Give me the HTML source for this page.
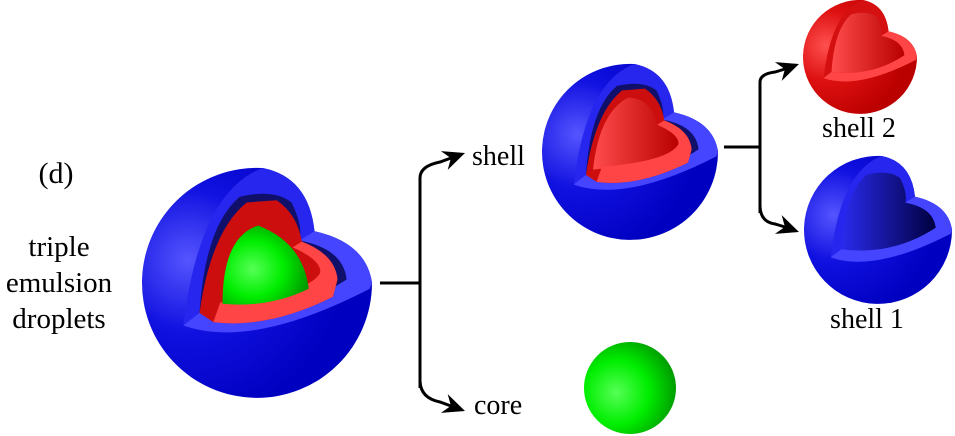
<!DOCTYPE html>
<html><head><meta charset="utf-8"><style>
html,body{margin:0;padding:0;background:#fff;}
svg{display:block;}
text{font-family:"Liberation Serif",serif;fill:#000;}
</style></head><body>
<svg width="955" height="436" viewBox="0 0 955 436" xmlns="http://www.w3.org/2000/svg">
<defs>
<radialGradient id="gb" cx="0.2" cy="0.4" r="0.7">
<stop offset="0" stop-color="#5555ff"/><stop offset="0.45" stop-color="#1010e0"/><stop offset="1" stop-color="#0000c0"/></radialGradient>
<radialGradient id="gr" cx="0.2" cy="0.4" r="0.7">
<stop offset="0" stop-color="#ff5050"/><stop offset="0.45" stop-color="#dd1010"/><stop offset="1" stop-color="#bb0000"/></radialGradient>
<radialGradient id="gg" cx="0.35" cy="0.55" r="0.7">
<stop offset="0" stop-color="#55ff55"/><stop offset="0.5" stop-color="#00ee00"/><stop offset="1" stop-color="#009000"/></radialGradient>
<linearGradient id="cr" x1="0" x2="1"><stop offset="0" stop-color="#ff4c4c"/><stop offset="1" stop-color="#b80000"/></linearGradient>
<linearGradient id="cb" x1="0" x2="1"><stop offset="0" stop-color="#2a2aee"/><stop offset="1" stop-color="#000040"/></linearGradient>
</defs>

<!-- big triple -->
<g transform="translate(257,283) scale(1.15)">
<path d="M5,-100 A100 100 0 1 0 100,0 Q95,-35 50,-45 Q45,-92 5,-100 Z" fill="url(#gb)"/>
<path d="M5,-100 Q-50,-80 -64,37 Q-5,58 98,5 L100,0 Q95,-35 50,-45 Q45,-92 5,-100 Z" fill="#2626ee"/>
<path d="M-50,26 Q-45,-50 -15,-75 Q15,-82 30,-70 Q40,-50 37,-37 Q75,-30 78,-3 Q20,35 -50,26 Z" fill="#10106a"/>
<path d="M-64,37 Q-5,58 98,5 L100,0 Q95,-35 50,-45 L37,-37 Q75,-30 78,-3 Q20,35 -50,26 Z" fill="#4545ff"/>
<path d="M-50,26 Q-40,-45 -9,-70 L17,-72 Q35,-60 39,-36 Q68,-25 70,-3 L66,12 Q10,40 -38,34 Z" fill="#cc0e0e"/>
<path d="M-38,34 Q10,40 66,12 L70,-3 Q68,-25 39,-36 L31,-31 Q56,-20 55,-9 Q45,10 -32,17 Z" fill="#ff4545"/>
<path d="M-30,18 Q-30,-40 1,-50 Q40,-35 45,5 Q10,22 -30,18 Z" fill="url(#gg)"/>
</g>

<!-- medium double -->
<g transform="translate(630,152) scale(0.88)">
<path d="M5,-100 A100 100 0 1 0 100,0 Q95,-35 50,-45 Q45,-92 5,-100 Z" fill="url(#gb)"/>
<path d="M5,-100 Q-50,-80 -64,37 Q-5,58 98,5 L100,0 Q95,-35 50,-45 Q45,-92 5,-100 Z" fill="#2626ee"/>
<path d="M-50,26 Q-45,-50 -15,-75 Q15,-82 30,-70 Q40,-50 37,-37 Q75,-30 78,-3 Q20,35 -50,26 Z" fill="#10106a"/>
<path d="M-64,37 Q-5,58 98,5 L100,0 Q95,-35 50,-45 L37,-37 Q75,-30 78,-3 Q20,35 -50,26 Z" fill="#4545ff"/>
<path d="M-50,26 Q-40,-45 -9,-70 L17,-72 Q35,-60 39,-36 Q68,-25 70,-3 L66,12 Q10,40 -38,34 Z" fill="#cc0e0e"/>
<path d="M-42,20 Q-35,-45 -2,-62 Q25,-60 31,-31 Q56,-20 55,-9 Q40,12 -42,20 Z" fill="url(#cr)"/>
<path d="M-38,34 Q10,40 66,12 L70,-3 Q68,-25 39,-36 L31,-31 Q56,-20 55,-9 Q45,10 -32,17 Z" fill="#ff4545"/>
</g>

<!-- shell 2 red -->
<g transform="translate(860,57) scale(0.57)">
<path d="M5,-100 A100 100 0 1 0 100,0 Q95,-35 50,-45 Q45,-92 5,-100 Z" fill="url(#gr)"/>
<path d="M5,-100 Q-50,-80 -64,37 Q-5,58 98,5 L100,0 Q95,-35 50,-45 Q45,-92 5,-100 Z" fill="#d41010"/>
<path d="M-50,26 Q-45,-50 -15,-75 Q15,-82 30,-70 Q40,-50 37,-37 Q75,-30 78,-3 Q20,35 -50,26 Z" fill="url(#cr)"/>
<path d="M-64,37 Q-5,58 98,5 L100,0 Q95,-35 50,-45 L37,-37 Q75,-30 78,-3 Q20,35 -50,26 Z" fill="#ff4545"/>
</g>

<!-- shell 1 blue -->
<g transform="translate(878,230) scale(0.74)">
<path d="M5,-100 A100 100 0 1 0 100,0 Q95,-35 50,-45 Q45,-92 5,-100 Z" fill="url(#gb)"/>
<path d="M5,-100 Q-50,-80 -64,37 Q-5,58 98,5 L100,0 Q95,-35 50,-45 Q45,-92 5,-100 Z" fill="#2626ee"/>
<path d="M-50,26 Q-45,-50 -15,-75 Q15,-82 30,-70 Q40,-50 37,-37 Q75,-30 78,-3 Q20,35 -50,26 Z" fill="url(#cb)"/>
<path d="M-64,37 Q-5,58 98,5 L100,0 Q95,-35 50,-45 L37,-37 Q75,-30 78,-3 Q20,35 -50,26 Z" fill="#4545ff"/>
</g>

<!-- core -->
<circle cx="630" cy="388" r="46" fill="url(#gg)"/>

<!-- connectors -->
<g fill="none" stroke="#000" stroke-width="3">
<path d="M380,283 H420"/>
<path d="M420,388 V178 Q420,166 440,162 L451,158"/>
<path d="M420,380 Q420,398 440,402 L451,406"/>
<path d="M724,147 H760"/>
<path d="M760,213 V82 Q760,74 775,72 L785,69"/>
<path d="M760,205 Q760,222 775,224 L785,227"/>
</g>
<g fill="#000">
<polygon points="465,153 447.7,169.9 450.9,158.1 440.9,151.1"/>
<polygon points="465,411 440.9,412.9 450.9,405.9 447.7,394.1"/>
<polygon points="799,64 781.7,80.9 784.9,69.1 774.9,62.1"/>
<polygon points="799,232 774.9,233.9 784.9,226.9 781.7,215.1"/>
</g>

<text x="56" y="183" font-size="30" text-anchor="middle">(d)</text>
<text x="59" y="256" font-size="29" text-anchor="middle">triple</text>
<text x="59" y="292" font-size="29" text-anchor="middle">emulsion</text>
<text x="59" y="328" font-size="29" text-anchor="middle">droplets</text>
<text x="472" y="165" font-size="28">shell</text>
<text x="474" y="414" font-size="28">core</text>
<text x="859" y="137" font-size="28" text-anchor="middle">shell 2</text>
<text x="867" y="328" font-size="28" text-anchor="middle">shell 1</text>
</svg>
</body></html>
